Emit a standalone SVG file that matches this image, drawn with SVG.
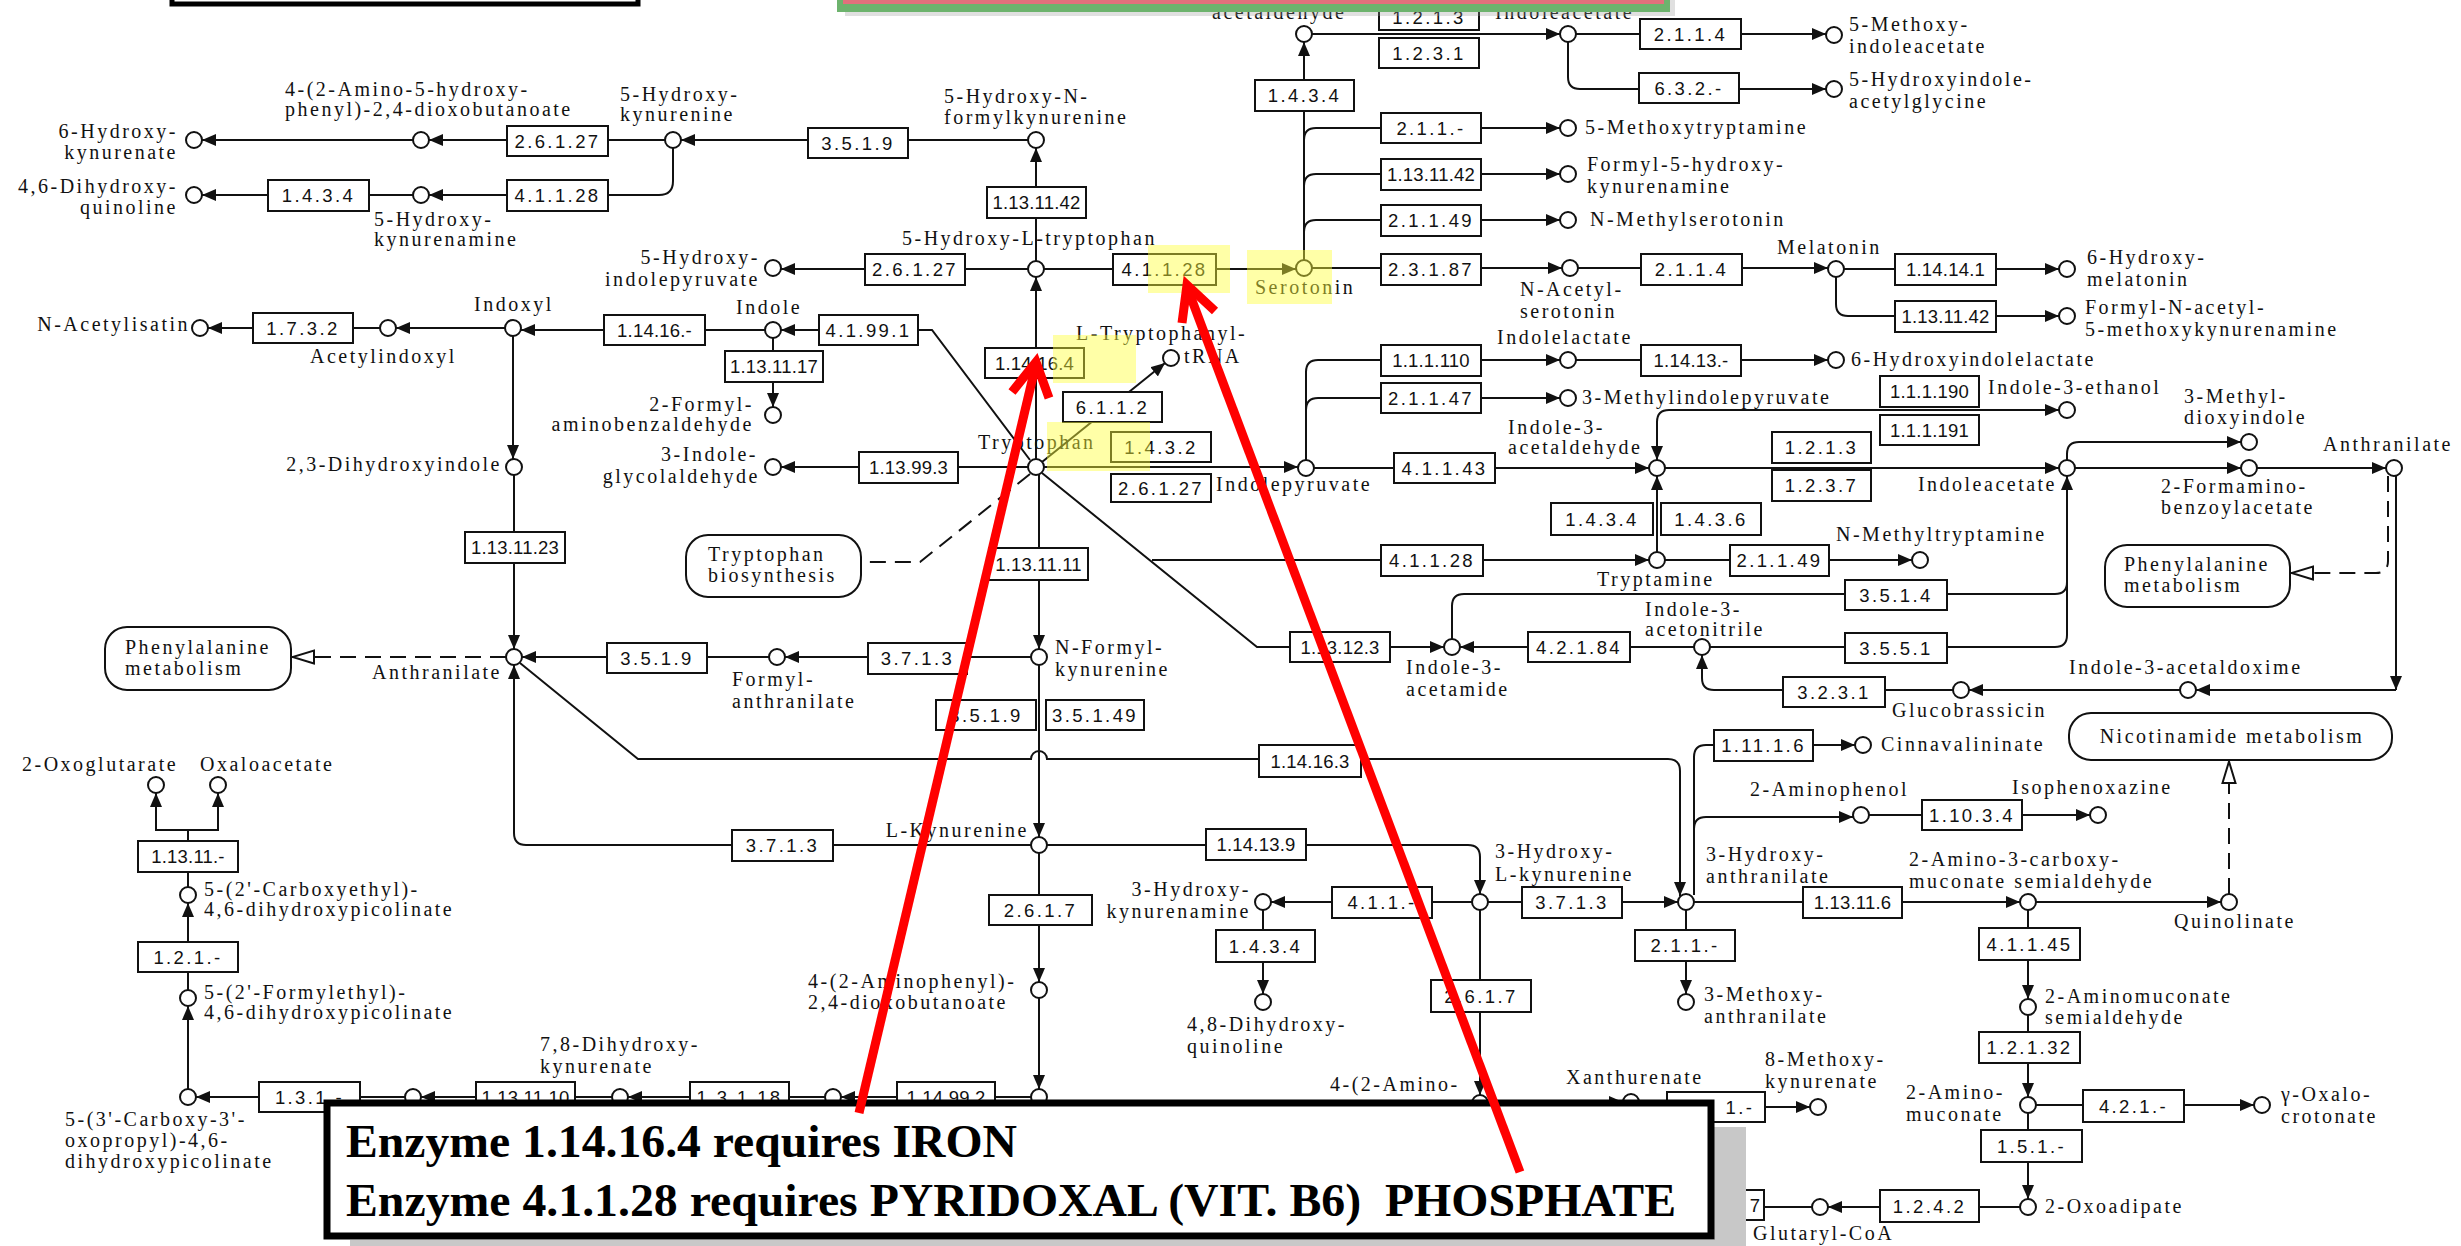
<svg xmlns="http://www.w3.org/2000/svg" width="2461" height="1246" viewBox="0 0 2461 1246">
<defs>
<style>
.c{fill:#fff;stroke:#111;stroke-width:2}
.e{fill:#fff;stroke:#111;stroke-width:2}
.m{fill:#fff;stroke:#111;stroke-width:2}
.t{font-family:"Liberation Serif","Times New Roman",serif;font-size:20px;letter-spacing:2.5px;fill:#111}
.te{text-anchor:end}
.n{font-family:"Liberation Sans",Arial,sans-serif;font-size:18.5px;letter-spacing:2.4px;text-anchor:middle;fill:#111}
.nl{letter-spacing:0.2px}
.r{fill:none;stroke:#111;stroke-width:2;marker-end:url(#a)}
.rb{fill:none;stroke:#111;stroke-width:2;marker-end:url(#a);marker-start:url(#a)}
.l{fill:none;stroke:#111;stroke-width:2}
.d{fill:none;stroke:#111;stroke-width:2;stroke-dasharray:16 9;marker-end:url(#h)}
.dl{fill:none;stroke:#111;stroke-width:2;stroke-dasharray:16 9}
.hl{fill:#ffff3c;fill-opacity:0.45}
.big{font-family:"Liberation Serif","Times New Roman",serif;font-weight:bold;font-size:47px;fill:#000}
.red{fill:none;stroke:#ff0000;stroke-width:9}
</style>
<marker id="a" viewBox="0 0 14 12" refX="14" refY="6" markerWidth="14" markerHeight="12" markerUnits="userSpaceOnUse" orient="auto-start-reverse"><path d="M0,0 L14,6 L0,12 z" fill="#111"/></marker>
<marker id="h" viewBox="0 0 24 16" refX="23" refY="8" markerWidth="24" markerHeight="16" markerUnits="userSpaceOnUse" orient="auto"><path d="M1,1.5 L22.5,8 L1,14.5 z" fill="#fff" stroke="#111" stroke-width="2"/></marker>
</defs>
<rect width="2461" height="1246" fill="#fff"/>

<g id="connectors">
<path class="r" d="M665,140H429"/>
<path class="r" d="M413,140H202"/>
<path class="r" d="M673,148V181Q673,195 659,195H429"/>
<path class="r" d="M413,195H202"/>
<path class="r" d="M1028,140H681"/>
<path class="r" d="M1036,261V148"/>
<path class="r" d="M1028,269H781"/>
<path class="r" d="M1044,269H1296"/>
<path class="r" d="M1036,459V277"/>
<path class="r" d="M765,330H521"/>
<path class="r" d="M1030,460L932,330H781"/>
<path class="r" d="M773,338V407"/>
<path class="r" d="M505,328H396"/>
<path class="r" d="M380,328H208"/>
<path class="r" d="M513,336V459"/>
<path class="r" d="M514,475V649"/>
<path class="r" d="M1028,467H781"/>
<path class="r" d="M1042,462L1165,363"/>
<path class="r" d="M1044,467H1298"/>
<path class="r" d="M1042,473L1257,647H1444"/>
<path class="r" d="M1152,560H1649"/>
<path class="dl" d="M1030,474L920,562H861"/>
<path class="r" d="M1039,475V649"/>
<path class="r" d="M1039,665V837"/>
<path class="r" d="M1031,657H785"/>
<path class="r" d="M769,657H522"/>
<path class="d" d="M506,657H292"/>
<path class="r" d="M520,663L638,759H1031A8,8 0 0 1 1047,759H1668Q1680,759 1680,771V896"/>
<path class="r" d="M1031,845H526Q514,845 514,833V665"/>
<path class="r" d="M1047,845H1468Q1480,845 1480,857V894"/>
<path class="r" d="M1039,853V982"/>
<path class="r" d="M1039,998V1089"/>
<path class="r" d="M1031,1097H841"/>
<path class="r" d="M825,1097H628"/>
<path class="r" d="M612,1097H421"/>
<path class="r" d="M405,1097H196"/>
<path class="r" d="M188,1089V1006"/>
<path class="r" d="M188,990V903"/>
<path class="r" d="M188,887V830H156V793"/>
<path class="r" d="M188,830H218V793"/>
<path class="r" d="M1472,902H1271"/>
<path class="r" d="M1263,910V994"/>
<path class="r" d="M1488,902H1678"/>
<path class="r" d="M1480,910V1095"/>
<path class="r" d="M1686,910V994"/>
<path class="r" d="M1694,902H2020"/>
<path class="r" d="M1694,895V757Q1694,745 1706,745H1855"/>
<path class="r" d="M1694,829Q1694,817 1706,817H1853"/>
<path class="r" d="M1869,815H2090"/>
<path class="r" d="M2036,902H2221"/>
<path class="d" d="M2229,894V761"/>
<path class="r" d="M2028,910V999"/>
<path class="r" d="M2028,1015V1097"/>
<path class="r" d="M2036,1105H2254"/>
<path class="r" d="M2028,1113V1199"/>
<path class="r" d="M2020,1207H1828"/>
<path class="l" d="M1812,1207H1764"/>
<path class="r" d="M1488,1102H1623"/>
<path class="r" d="M1639,1107H1810"/>
<path class="r" d="M1304,260V42"/>
<path class="r" d="M1304,140Q1304,128 1316,128H1560"/>
<path class="r" d="M1304,186Q1304,174 1316,174H1560"/>
<path class="r" d="M1304,232Q1304,220 1316,220H1560"/>
<path class="r" d="M1312,268H1562"/>
<path class="r" d="M1578,268H1828"/>
<path class="r" d="M1844,269H2059"/>
<path class="r" d="M1836,277V304Q1836,316 1848,316H2059"/>
<path class="r" d="M1312,34H1560"/>
<path class="r" d="M1576,34H1826"/>
<path class="r" d="M1568,42V77Q1568,89 1580,89H1826"/>
<path class="r" d="M1306,460V372Q1306,360 1318,360H1560"/>
<path class="r" d="M1306,410Q1306,398 1318,398H1560"/>
<path class="r" d="M1576,360H1828"/>
<path class="r" d="M1314,468H1649"/>
<path class="rb" d="M1657,460V422Q1657,410 1669,410H2059"/>
<path class="r" d="M1665,468H2059"/>
<path class="r" d="M1657,552V476"/>
<path class="r" d="M1665,560H1912"/>
<path class="r" d="M2067,460V454Q2067,442 2079,442H2241"/>
<path class="r" d="M2075,468H2241"/>
<path class="r" d="M2257,468H2386"/>
<path class="d" d="M2388,476V561Q2388,573 2376,573H2291"/>
<path class="r" d="M2396,476V690"/>
<path class="r" d="M2396,690H2196"/>
<path class="r" d="M2180,690H1969"/>
<path class="r" d="M1953,690H1714Q1702,690 1702,678V655"/>
<path class="r" d="M1694,647H1460"/>
<path class="r" d="M1710,647H2055Q2067,647 2067,635V476"/>
<path class="l" d="M1452,639V606Q1452,594 1464,594H2055Q2067,594 2067,582"/>
</g>

<g id="enzymes">
<g id="e1"><rect class="e" x="507" y="126" width="101" height="30"/><text class="n" x="557.5" y="148">2.6.1.27</text></g>
<g id="e2"><rect class="e" x="268" y="180" width="101" height="31"/><text class="n" x="318.5" y="202">1.4.3.4</text></g>
<g id="e3"><rect class="e" x="507" y="180" width="101" height="31"/><text class="n" x="557.5" y="202">4.1.1.28</text></g>
<g id="e4"><rect class="e" x="808" y="128" width="100" height="30"/><text class="n" x="858" y="149.5">3.5.1.9</text></g>
<g id="e5"><rect class="e" x="987" y="187" width="99" height="31"/><text class="n nl" x="1036.5" y="209">1.13.11.42</text></g>
<g id="e6"><rect class="e" x="865" y="254" width="100" height="31"/><text class="n" x="915" y="276">2.6.1.27</text></g>
<g id="e7"><rect class="e" x="1113" y="254" width="103" height="31"/><text class="n" x="1164.5" y="276">4.1.1.28</text></g>
<g id="e8"><rect class="e" x="253" y="313" width="100" height="30"/><text class="n" x="303" y="334.5">1.7.3.2</text></g>
<g id="e9"><rect class="e" x="604" y="315" width="101" height="30"/><text class="n nl" x="654.5" y="336.5">1.14.16.-</text></g>
<g id="e10"><rect class="e" x="819" y="315" width="99" height="30"/><text class="n" x="868.5" y="336.5">4.1.99.1</text></g>
<g id="e11"><rect class="e" x="725" y="351" width="98" height="31"/><text class="n nl" x="774" y="373">1.13.11.17</text></g>
<g id="e12"><rect class="e" x="985" y="348" width="99" height="30"/><text class="n nl" x="1034.5" y="369.5">1.14.16.4</text></g>
<g id="e13"><rect class="e" x="1063" y="392" width="99" height="30"/><text class="n" x="1112.5" y="413.5">6.1.1.2</text></g>
<g id="e14"><rect class="e" x="859" y="452" width="99" height="31"/><text class="n nl" x="908.5" y="474">1.13.99.3</text></g>
<g id="e15"><rect class="e" x="1111" y="432" width="100" height="30"/><text class="n" x="1161" y="453.5">1.4.3.2</text></g>
<g id="e16"><rect class="e" x="1111" y="474" width="100" height="28"/><text class="n" x="1161" y="494.5">2.6.1.27</text></g>
<g id="e17"><rect class="e" x="465" y="532" width="100" height="31"/><text class="n nl" x="515" y="554">1.13.11.23</text></g>
<g id="e18"><rect class="e" x="989" y="548" width="99" height="32"/><text class="n nl" x="1038.5" y="570.5">1.13.11.11</text></g>
<g id="e19"><rect class="e" x="607" y="643" width="100" height="30"/><text class="n" x="657" y="664.5">3.5.1.9</text></g>
<g id="e20"><rect class="e" x="868" y="643" width="99" height="31"/><text class="n" x="917.5" y="665">3.7.1.3</text></g>
<g id="e21"><rect class="e" x="936" y="700" width="100" height="30"/><text class="n" x="986" y="721.5">3.5.1.9</text></g>
<g id="e22"><rect class="e" x="1046" y="700" width="98" height="30"/><text class="n" x="1095" y="721.5">3.5.1.49</text></g>
<g id="e23"><rect class="e" x="732" y="830" width="101" height="31"/><text class="n" x="782.5" y="852">3.7.1.3</text></g>
<g id="e24"><rect class="e" x="989" y="895" width="103" height="30"/><text class="n" x="1040.5" y="916.5">2.6.1.7</text></g>
<g id="e25"><rect class="e" x="1259" y="745" width="102" height="32"/><text class="n nl" x="1310" y="767.5">1.14.16.3</text></g>
<g id="e26"><rect class="e" x="1206" y="829" width="100" height="31"/><text class="n nl" x="1256" y="851">1.14.13.9</text></g>
<g id="e27"><rect class="e" x="1332" y="887" width="100" height="31"/><text class="n" x="1382" y="909">4.1.1.-</text></g>
<g id="e28"><rect class="e" x="1216" y="930" width="99" height="32"/><text class="n" x="1265.5" y="952.5">1.4.3.4</text></g>
<g id="e29"><rect class="e" x="1522" y="887" width="100" height="31"/><text class="n" x="1572" y="909">3.7.1.3</text></g>
<g id="e30"><rect class="e" x="1431" y="980" width="100" height="32"/><text class="n" x="1481" y="1002.5">2.6.1.7</text></g>
<g id="e31"><rect class="e" x="1635" y="930" width="100" height="31"/><text class="n" x="1685" y="952">2.1.1.-</text></g>
<g id="e32"><rect class="e" x="1803" y="887" width="99" height="31"/><text class="n nl" x="1852.5" y="909">1.13.11.6</text></g>
<g id="e33"><rect class="e" x="1979" y="928" width="101" height="32"/><text class="n" x="2029.5" y="950.5">4.1.1.45</text></g>
<g id="e34"><rect class="e" x="1979" y="1032" width="101" height="31"/><text class="n" x="2029.5" y="1054">1.2.1.32</text></g>
<g id="e35"><rect class="e" x="2083" y="1090" width="101" height="32"/><text class="n" x="2133.5" y="1112.5">4.2.1.-</text></g>
<g id="e36"><rect class="e" x="1981" y="1130" width="101" height="32"/><text class="n" x="2031.5" y="1152.5">1.5.1.-</text></g>
<g id="e37"><rect class="e" x="1880" y="1190" width="99" height="32"/><text class="n" x="1929.5" y="1212.5">1.2.4.2</text></g>
<g id="e38"><rect class="e" x="1664" y="1190" width="100" height="30"/><text class="n" x="1756" y="1211.5">7</text></g>
<g id="e39"><rect class="e" x="1667" y="1092" width="98" height="30"/><text class="n" x="1740" y="1113.5">1.-</text></g>
<g id="e40"><rect class="e" x="259" y="1082" width="101" height="30"/><text class="n" x="309.5" y="1103.5">1.3.1.-</text></g>
<g id="e41"><rect class="e" x="476" y="1082" width="99" height="30"/><text class="n nl" x="525.5" y="1103.5">1.13.11.10</text></g>
<g id="e42"><rect class="e" x="690" y="1082" width="99" height="30"/><text class="n" x="739.5" y="1103.5">1.3.1.18</text></g>
<g id="e43"><rect class="e" x="897" y="1082" width="98" height="30"/><text class="n nl" x="946" y="1103.5">1.14.99.2</text></g>
<g id="e44"><rect class="e" x="138" y="942" width="100" height="30"/><text class="n" x="188" y="963.5">1.2.1.-</text></g>
<g id="e45"><rect class="e" x="138" y="841" width="100" height="31"/><text class="n nl" x="188" y="863">1.13.11.-</text></g>
<g id="e46"><rect class="e" x="1379" y="-8" width="100" height="38"/><text class="n" x="1429" y="24">1.2.1.3</text></g>
<g id="e47"><rect class="e" x="1379" y="38" width="100" height="30"/><text class="n" x="1429" y="59.5">1.2.3.1</text></g>
<g id="e48"><rect class="e" x="1640" y="19" width="101" height="30"/><text class="n" x="1690.5" y="40.5">2.1.1.4</text></g>
<g id="e49"><rect class="e" x="1639" y="73" width="100" height="30"/><text class="n" x="1689" y="94.5">6.3.2.-</text></g>
<g id="e50"><rect class="e" x="1255" y="80" width="99" height="31"/><text class="n" x="1304.5" y="102">1.4.3.4</text></g>
<g id="e51"><rect class="e" x="1381" y="113" width="100" height="30"/><text class="n" x="1431" y="134.5">2.1.1.-</text></g>
<g id="e52"><rect class="e" x="1381" y="159" width="100" height="31"/><text class="n nl" x="1431" y="181">1.13.11.42</text></g>
<g id="e53"><rect class="e" x="1381" y="205" width="100" height="31"/><text class="n" x="1431" y="227">2.1.1.49</text></g>
<g id="e54"><rect class="e" x="1381" y="254" width="100" height="31"/><text class="n" x="1431" y="276">2.3.1.87</text></g>
<g id="e55"><rect class="e" x="1641" y="254" width="101" height="31"/><text class="n" x="1691.5" y="276">2.1.1.4</text></g>
<g id="e56"><rect class="e" x="1895" y="254" width="101" height="31"/><text class="n nl" x="1945.5" y="276">1.14.14.1</text></g>
<g id="e57"><rect class="e" x="1895" y="301" width="101" height="31"/><text class="n nl" x="1945.5" y="323">1.13.11.42</text></g>
<g id="e58"><rect class="e" x="1381" y="345" width="100" height="31"/><text class="n nl" x="1431" y="367">1.1.1.110</text></g>
<g id="e59"><rect class="e" x="1641" y="345" width="100" height="31"/><text class="n nl" x="1691" y="367">1.14.13.-</text></g>
<g id="e60"><rect class="e" x="1381" y="383" width="100" height="30"/><text class="n" x="1431" y="404.5">2.1.1.47</text></g>
<g id="e61"><rect class="e" x="1880" y="376" width="99" height="31"/><text class="n nl" x="1929.5" y="398">1.1.1.190</text></g>
<g id="e62"><rect class="e" x="1880" y="415" width="99" height="30"/><text class="n nl" x="1929.5" y="436.5">1.1.1.191</text></g>
<g id="e63"><rect class="e" x="1394" y="453" width="101" height="30"/><text class="n" x="1444.5" y="474.5">4.1.1.43</text></g>
<g id="e64"><rect class="e" x="1772" y="432" width="99" height="31"/><text class="n" x="1821.5" y="454">1.2.1.3</text></g>
<g id="e65"><rect class="e" x="1772" y="470" width="99" height="31"/><text class="n" x="1821.5" y="492">1.2.3.7</text></g>
<g id="e66"><rect class="e" x="1551" y="503" width="102" height="32"/><text class="n" x="1602" y="525.5">1.4.3.4</text></g>
<g id="e67"><rect class="e" x="1661" y="503" width="100" height="32"/><text class="n" x="1711" y="525.5">1.4.3.6</text></g>
<g id="e68"><rect class="e" x="1381" y="545" width="102" height="31"/><text class="n" x="1432" y="567">4.1.1.28</text></g>
<g id="e69"><rect class="e" x="1730" y="545" width="99" height="31"/><text class="n" x="1779.5" y="567">2.1.1.49</text></g>
<g id="e70"><rect class="e" x="1290" y="632" width="100" height="30"/><text class="n nl" x="1340" y="653.5">1.13.12.3</text></g>
<g id="e71"><rect class="e" x="1528" y="632" width="102" height="30"/><text class="n" x="1579" y="653.5">4.2.1.84</text></g>
<g id="e72"><rect class="e" x="1845" y="580" width="102" height="30"/><text class="n" x="1896" y="601.5">3.5.1.4</text></g>
<g id="e73"><rect class="e" x="1845" y="633" width="102" height="30"/><text class="n" x="1896" y="654.5">3.5.5.1</text></g>
<g id="e74"><rect class="e" x="1783" y="677" width="102" height="30"/><text class="n" x="1834" y="698.5">3.2.3.1</text></g>
<g id="e75"><rect class="e" x="1714" y="730" width="99" height="31"/><text class="n" x="1763.5" y="752">1.11.1.6</text></g>
<g id="e76"><rect class="e" x="1922" y="800" width="100" height="30"/><text class="n" x="1972" y="821.5">1.10.3.4</text></g>
</g>

<g id="maps">
<g id="m-phe1"><rect class="m" x="105" y="627" width="186" height="63" rx="22"/><text class="t" x="125" y="654">Phenylalanine</text><text class="t" x="125" y="675">metabolism</text></g>
<g id="m-trpbio"><rect class="m" x="686" y="535" width="175" height="62" rx="22"/><text class="t" x="708" y="561">Tryptophan</text><text class="t" x="708" y="582">biosynthesis</text></g>
<g id="m-phe2"><rect class="m" x="2105" y="545" width="185" height="62" rx="22"/><text class="t" x="2124" y="571">Phenylalanine</text><text class="t" x="2124" y="592">metabolism</text></g>
<g id="m-nic"><rect class="m" x="2069" y="713" width="323" height="47" rx="22"/><text class="t" x="2232" y="743" text-anchor="middle">Nicotinamide metabolism</text></g>
</g>

<g id="compounds">
<g id="n-6hk"><circle class="c" cx="194" cy="140" r="8"/><text class="t te" x="178" y="138">6-Hydroxy-</text><text class="t te" x="178" y="159">kynurenate</text></g>
<g id="n-ahpdb"><circle class="c" cx="421" cy="140" r="8"/><text class="t" x="285" y="96">4-(2-Amino-5-hydroxy-</text><text class="t" x="285" y="116">phenyl)-2,4-dioxobutanoate</text></g>
<g id="n-46dhq"><circle class="c" cx="194" cy="195" r="8"/><text class="t te" x="178" y="193">4,6-Dihydroxy-</text><text class="t te" x="178" y="214">quinoline</text></g>
<g id="n-5hka"><circle class="c" cx="421" cy="195" r="8"/><text class="t" x="374" y="226">5-Hydroxy-</text><text class="t" x="374" y="246">kynurenamine</text></g>
<g id="n-5hk"><circle class="c" cx="673" cy="140" r="8"/><text class="t" x="620" y="101">5-Hydroxy-</text><text class="t" x="620" y="121">kynurenine</text></g>
<g id="n-5hnfk"><circle class="c" cx="1036" cy="140" r="8"/><text class="t" x="944" y="103">5-Hydroxy-N-</text><text class="t" x="944" y="124">formylkynurenine</text></g>
<g id="n-5htp"><circle class="c" cx="1036" cy="269" r="8"/><text class="t" x="902" y="245">5-Hydroxy-L-tryptophan</text></g>
<g id="n-5hip"><circle class="c" cx="773" cy="268" r="8"/><text class="t te" x="760" y="264">5-Hydroxy-</text><text class="t te" x="760" y="286">indolepyruvate</text></g>
<g id="n-nai"><circle class="c" cx="200" cy="328" r="8"/><text class="t te" x="190" y="331">N-Acetylisatin</text></g>
<g id="n-acind"><circle class="c" cx="388" cy="328" r="8"/><text class="t" x="310" y="363">Acetylindoxyl</text></g>
<g id="n-indoxyl"><circle class="c" cx="513" cy="328" r="8"/><text class="t" x="474" y="311">Indoxyl</text></g>
<g id="n-indole"><circle class="c" cx="773" cy="330" r="8"/><text class="t" x="736" y="314">Indole</text></g>
<g id="n-2fab"><circle class="c" cx="773" cy="415" r="8"/><text class="t te" x="754" y="411">2-Formyl-</text><text class="t te" x="754" y="431">aminobenzaldehyde</text></g>
<g id="n-trna"><circle class="c" cx="1171" cy="358" r="8"/><text class="t" x="1076" y="340">L-Tryptophanyl-</text><text class="t" x="1184" y="363">tRNA</text></g>
<g id="n-trp"><circle class="c" cx="1036" cy="467" r="8"/><text class="t" x="978" y="449">Tryptophan</text></g>
<g id="n-3iga"><circle class="c" cx="773" cy="467" r="8"/><text class="t te" x="758" y="461">3-Indole-</text><text class="t te" x="760" y="483">glycolaldehyde</text></g>
<g id="n-23dhi"><circle class="c" cx="514" cy="467" r="8"/><text class="t te" x="502" y="471">2,3-Dihydroxyindole</text></g>
<g id="n-anth1"><circle class="c" cx="514" cy="657" r="8"/><text class="t te" x="502" y="679">Anthranilate</text></g>
<g id="n-fanth"><circle class="c" cx="777" cy="657" r="8"/><text class="t" x="732" y="686">Formyl-</text><text class="t" x="732" y="708">anthranilate</text></g>
<g id="n-nfk"><circle class="c" cx="1039" cy="657" r="8"/><text class="t" x="1055" y="654">N-Formyl-</text><text class="t" x="1055" y="676">kynurenine</text></g>
<g id="n-lkyn"><circle class="c" cx="1039" cy="845" r="8"/><text class="t te" x="1029" y="837">L-Kynurenine</text></g>
<g id="n-4apdb"><circle class="c" cx="1039" cy="990" r="8"/><text class="t" x="808" y="988">4-(2-Aminophenyl)-</text><text class="t" x="808" y="1009">2,4-dioxobutanoate</text></g>
<g id="n-kyn"><circle class="c" cx="1039" cy="1097" r="8"/></g>
<g id="n-c833"><circle class="c" cx="833" cy="1097" r="8"/></g>
<g id="n-78dhk"><circle class="c" cx="620" cy="1097" r="8"/><text class="t" x="540" y="1051">7,8-Dihydroxy-</text><text class="t" x="540" y="1073">kynurenate</text></g>
<g id="n-c413"><circle class="c" cx="413" cy="1097" r="8"/></g>
<g id="n-ccop"><circle class="c" cx="188" cy="1097" r="8"/><text class="t" x="65" y="1126">5-(3'-Carboxy-3'-</text><text class="t" x="65" y="1147">oxopropyl)-4,6-</text><text class="t" x="65" y="1168">dihydroxypicolinate</text></g>
<g id="n-5fe"><circle class="c" cx="188" cy="998" r="8"/><text class="t" x="204" y="999">5-(2'-Formylethyl)-</text><text class="t" x="204" y="1019">4,6-dihydroxypicolinate</text></g>
<g id="n-5ce"><circle class="c" cx="188" cy="895" r="8"/><text class="t" x="204" y="896">5-(2'-Carboxyethyl)-</text><text class="t" x="204" y="916">4,6-dihydroxypicolinate</text></g>
<g id="n-2og"><circle class="c" cx="156" cy="785" r="8"/><text class="t" x="22" y="771">2-Oxoglutarate</text></g>
<g id="n-oaa"><circle class="c" cx="218" cy="785" r="8"/><text class="t" x="200" y="771">Oxaloacetate</text></g>
<g id="n-5hial"><circle class="c" cx="1304" cy="34" r="8"/><text class="t" x="1212" y="19">acetaldehyde</text></g>
<g id="n-5hiaa"><circle class="c" cx="1568" cy="34" r="8"/><text class="t" x="1495" y="19">Indoleacetate</text></g>
<g id="n-5miaa"><circle class="c" cx="1834" cy="35" r="8"/><text class="t" x="1849" y="31">5-Methoxy-</text><text class="t" x="1849" y="53">indoleacetate</text></g>
<g id="n-5hiag"><circle class="c" cx="1834" cy="89" r="8"/><text class="t" x="1849" y="86">5-Hydroxyindole-</text><text class="t" x="1849" y="108">acetylglycine</text></g>
<g id="n-5mt"><circle class="c" cx="1568" cy="128" r="8"/><text class="t" x="1585" y="134">5-Methoxytryptamine</text></g>
<g id="n-f5hk"><circle class="c" cx="1568" cy="174" r="8"/><text class="t" x="1587" y="171">Formyl-5-hydroxy-</text><text class="t" x="1587" y="193">kynurenamine</text></g>
<g id="n-nms"><circle class="c" cx="1568" cy="220" r="8"/><text class="t" x="1590" y="226">N-Methylserotonin</text></g>
<g id="n-ser"><circle class="c" cx="1304" cy="268" r="8"/><text class="t" x="1255" y="294">Serotonin</text></g>
<g id="n-nas"><circle class="c" cx="1570" cy="268" r="8"/><text class="t" x="1520" y="296">N-Acetyl-</text><text class="t" x="1520" y="318">serotonin</text></g>
<g id="n-mel"><circle class="c" cx="1836" cy="269" r="8"/><text class="t" x="1777" y="254">Melatonin</text></g>
<g id="n-6hm"><circle class="c" cx="2067" cy="269" r="8"/><text class="t" x="2087" y="264">6-Hydroxy-</text><text class="t" x="2087" y="286">melatonin</text></g>
<g id="n-fna"><circle class="c" cx="2067" cy="316" r="8"/><text class="t" x="2085" y="314">Formyl-N-acetyl-</text><text class="t" x="2085" y="336">5-methoxykynurenamine</text></g>
<g id="n-6hil"><circle class="c" cx="1836" cy="360" r="8"/><text class="t" x="1851" y="366">6-Hydroxyindolelactate</text></g>
<g id="n-il"><circle class="c" cx="1568" cy="360" r="8"/><text class="t" x="1497" y="344">Indolelactate</text></g>
<g id="n-3mip"><circle class="c" cx="1568" cy="398" r="8"/><text class="t" x="1582" y="404">3-Methylindolepyruvate</text></g>
<g id="n-ipyr"><circle class="c" cx="1306" cy="468" r="8"/><text class="t" x="1216" y="491">Indolepyruvate</text></g>
<g id="n-iaald"><circle class="c" cx="1657" cy="468" r="8"/><text class="t" x="1508" y="434">Indole-3-</text><text class="t" x="1508" y="454">acetaldehyde</text></g>
<g id="n-ieth"><circle class="c" cx="2067" cy="410" r="8"/><text class="t" x="1988" y="394">Indole-3-ethanol</text></g>
<g id="n-3mdi"><circle class="c" cx="2249" cy="442" r="8"/><text class="t" x="2184" y="403">3-Methyl-</text><text class="t" x="2184" y="424">dioxyindole</text></g>
<g id="n-iaa"><circle class="c" cx="2067" cy="468" r="8"/><text class="t te" x="2057" y="491">Indoleacetate</text></g>
<g id="n-2fba"><circle class="c" cx="2249" cy="468" r="8"/><text class="t" x="2161" y="493">2-Formamino-</text><text class="t" x="2161" y="514">benzoylacetate</text></g>
<g id="n-anth2"><circle class="c" cx="2394" cy="468" r="8"/><text class="t" x="2323" y="451">Anthranilate</text></g>
<g id="n-tryptamine"><circle class="c" cx="1657" cy="560" r="8"/><text class="t" x="1597" y="586">Tryptamine</text></g>
<g id="n-nmt"><circle class="c" cx="1920" cy="560" r="8"/><text class="t" x="1836" y="541">N-Methyltryptamine</text></g>
<g id="n-iam"><circle class="c" cx="1452" cy="647" r="8"/><text class="t" x="1406" y="674">Indole-3-</text><text class="t" x="1406" y="696">acetamide</text></g>
<g id="n-ian"><circle class="c" cx="1702" cy="647" r="8"/><text class="t" x="1645" y="616">Indole-3-</text><text class="t" x="1645" y="636">acetonitrile</text></g>
<g id="n-iaox"><circle class="c" cx="2188" cy="690" r="8"/><text class="t" x="2069" y="674">Indole-3-acetaldoxime</text></g>
<g id="n-gb"><circle class="c" cx="1961" cy="690" r="8"/><text class="t" x="1892" y="717">Glucobrassicin</text></g>
<g id="n-cinn"><circle class="c" cx="1863" cy="745" r="8"/><text class="t" x="1881" y="751">Cinnavalininate</text></g>
<g id="n-2ap"><circle class="c" cx="1861" cy="815" r="8"/><text class="t" x="1750" y="796">2-Aminophenol</text></g>
<g id="n-ipx"><circle class="c" cx="2098" cy="815" r="8"/><text class="t" x="2012" y="794">Isophenoxazine</text></g>
<g id="n-3hk"><circle class="c" cx="1480" cy="902" r="8"/><text class="t" x="1495" y="858">3-Hydroxy-</text><text class="t" x="1495" y="881">L-kynurenine</text></g>
<g id="n-3hka"><circle class="c" cx="1263" cy="902" r="8"/><text class="t te" x="1251" y="896">3-Hydroxy-</text><text class="t te" x="1251" y="918">kynurenamine</text></g>
<g id="n-48dhq"><circle class="c" cx="1263" cy="1002" r="8"/><text class="t" x="1187" y="1031">4,8-Dihydroxy-</text><text class="t" x="1187" y="1053">quinoline</text></g>
<g id="n-3haa"><circle class="c" cx="1686" cy="902" r="8"/><text class="t" x="1706" y="861">3-Hydroxy-</text><text class="t" x="1706" y="883">anthranilate</text></g>
<g id="n-3maa"><circle class="c" cx="1686" cy="1002" r="8"/><text class="t" x="1704" y="1001">3-Methoxy-</text><text class="t" x="1704" y="1023">anthranilate</text></g>
<g id="n-ahhp"><circle class="c" cx="1480" cy="1103" r="8"/><text class="t" x="1330" y="1091">4-(2-Amino-</text></g>
<g id="n-xa"><circle class="c" cx="1631" cy="1102" r="8"/><text class="t" x="1566" y="1084">Xanthurenate</text></g>
<g id="n-8mk"><circle class="c" cx="1818" cy="1107" r="8"/><text class="t" x="1765" y="1066">8-Methoxy-</text><text class="t" x="1765" y="1088">kynurenate</text></g>
<g id="n-acms"><circle class="c" cx="2028" cy="902" r="8"/><text class="t" x="1909" y="866">2-Amino-3-carboxy-</text><text class="t" x="1909" y="888">muconate semialdehyde</text></g>
<g id="n-quin"><circle class="c" cx="2229" cy="902" r="8"/><text class="t" x="2174" y="928">Quinolinate</text></g>
<g id="n-ams"><circle class="c" cx="2028" cy="1007" r="8"/><text class="t" x="2045" y="1003">2-Aminomuconate</text><text class="t" x="2045" y="1024">semialdehyde</text></g>
<g id="n-am"><circle class="c" cx="2028" cy="1105" r="8"/><text class="t" x="1906" y="1099">2-Amino-</text><text class="t" x="1906" y="1121">muconate</text></g>
<g id="n-oc"><circle class="c" cx="2262" cy="1105" r="8"/><text class="t" x="2281" y="1101">γ-Oxalo-</text><text class="t" x="2281" y="1123">crotonate</text></g>
<g id="n-2oa"><circle class="c" cx="2028" cy="1207" r="8"/><text class="t" x="2045" y="1213">2-Oxoadipate</text></g>
<g id="n-gcoa"><circle class="c" cx="1820" cy="1207" r="8"/><text class="t" x="1753" y="1240">Glutaryl-CoA</text></g>
</g>

<g id="highlights">
<rect class="hl" x="1148" y="245" width="82" height="48"/>
<rect class="hl" x="1247" y="250" width="85" height="54"/>
<rect class="hl" x="1053" y="335" width="83" height="48"/>
<rect class="hl" x="1047" y="422" width="103" height="49"/>
</g>

<g id="top-boxes">
<rect x="172" y="-30" width="466" height="34" fill="#fff" stroke="#000" stroke-width="5"/>
<rect x="845" y="-30" width="830" height="46" fill="#999" fill-opacity="0.3"/>
<rect x="837" y="-40" width="833" height="52" fill="#6db36d"/>
<rect x="843" y="-40" width="821" height="44" fill="#e2707c"/>
</g>

<g id="note">
<rect x="1714" y="1127" width="32" height="119" fill="#c8c8c8"/>
<rect x="350" y="1240" width="1396" height="6" fill="#c8c8c8"/>
<rect x="327" y="1103" width="1384" height="133" fill="#fff" stroke="#000" stroke-width="7"/>
<text class="big" x="346" y="1157" textLength="671" lengthAdjust="spacingAndGlyphs">Enzyme 1.14.16.4 requires IRON</text>
<text class="big" x="346" y="1216" textLength="1330" lengthAdjust="spacingAndGlyphs">Enzyme 4.1.1.28 requires PYRIDOXAL (VIT. B6)&#160; PHOSPHATE</text>
</g>

<g id="red-arrows">
<path class="red" d="M859,1113L1036,364"/>
<path class="red" d="M1012,392L1036,362L1049,398" stroke-linejoin="miter"/>
<path class="red" d="M1520,1172L1187,287"/>
<path class="red" d="M1182,323L1187,285L1215,311" stroke-linejoin="miter"/>
</g>
</svg>
